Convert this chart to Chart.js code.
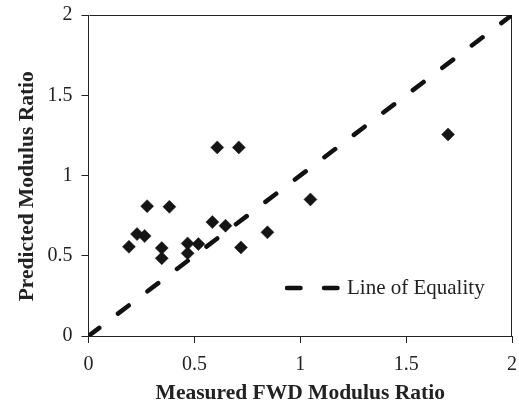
<!DOCTYPE html>
<html>
<head>
<meta charset="utf-8">
<script src="https://cdn.jsdelivr.net/npm/chart.js@4/dist/chart.umd.min.js"></script>
<style>
  html, body { margin: 0; padding: 0; background: #fff; }
  #wrap { width: 519px; height: 409px; }
</style>
</head>
<body>
<div id="wrap"><canvas id="chart" width="519" height="409"></canvas></div>
<script>
// Measured vs predicted modulus ratios
const measured  = [0.191, 0.229, 0.265, 0.277, 0.346, 0.346, 0.382, 0.468, 0.468, 0.519, 0.585, 0.608, 0.647, 0.710, 0.720, 0.845, 1.048, 1.698];
const predicted = [0.556, 0.635, 0.623, 0.809, 0.548, 0.484, 0.805, 0.577, 0.515, 0.573, 0.710, 1.175, 0.687, 1.175, 0.552, 0.646, 0.851, 1.256];

// 1:1 reference line
const equalityX = [0, 2];
const equalityY = [0, 2];

const axisTicks = [0, 0.5, 1, 1.5, 2];
const xTitle = 'Measured FWD Modulus Ratio';
const yTitle = 'Predicted Modulus Ratio';
const equalityLabel = 'Line of Equality';

const SERIF = "'Liberation Serif', 'Times New Roman', Times, serif";
const INK = '#222';

const pointData = measured.map((x, i) => ({ x, y: predicted[i] }));
const lineData = equalityX.map((x, i) => ({ x, y: equalityY[i] }));

const lineStyle = { color: '#111', width: 4.5, dash: [13.5, 23.5] };

// Box around the plotting area (top and right sides)
const frame = {
  id: 'frame',
  beforeDatasetsDraw(chart) {
    const { ctx, chartArea: a } = chart;
    ctx.save();
    ctx.strokeStyle = INK;
    ctx.lineWidth = 1;
    ctx.beginPath();
    ctx.moveTo(Math.round(a.left) + 0.5, Math.round(a.top) + 0.5);
    ctx.lineTo(Math.round(a.right) - 0.5, Math.round(a.top) + 0.5);
    ctx.lineTo(Math.round(a.right) - 0.5, Math.round(a.bottom));
    ctx.stroke();
    ctx.restore();
  }
};

// Legend entry for the dashed line, drawn inside the plot
const lineKey = {
  id: 'lineKey',
  afterDraw(chart) {
    const { ctx } = chart;
    const y = 288;
    ctx.save();
    ctx.strokeStyle = lineStyle.color;
    ctx.lineWidth = lineStyle.width;
    ctx.lineCap = 'round';
    ctx.setLineDash(lineStyle.dash);
    ctx.beginPath();
    ctx.moveTo(287, y);
    ctx.lineTo(340, y);
    ctx.stroke();
    ctx.setLineDash([]);
    ctx.fillStyle = INK;
    ctx.font = '21px ' + SERIF;
    ctx.textBaseline = 'middle';
    ctx.textAlign = 'left';
    ctx.fillText(equalityLabel, 347, y);
    ctx.restore();
  }
};

new Chart(document.getElementById('chart'), {
  type: 'scatter',
  data: {
    datasets: [
      {
        type: 'line',
        label: equalityLabel,
        data: lineData,
        borderColor: lineStyle.color,
        borderWidth: lineStyle.width,
        borderDash: lineStyle.dash,
        borderCapStyle: 'round',
        pointRadius: 0,
        fill: false,
        order: 2
      },
      {
        label: 'Modulus Ratio',
        data: pointData,
        pointStyle: 'rectRot',
        pointRadius: 6.5,
        backgroundColor: '#151515',
        borderColor: '#151515',
        borderWidth: 0.5,
        order: 1
      }
    ]
  },
  options: {
    responsive: false,
    animation: false,
    devicePixelRatio: 1,
    layout: { padding: { top: 15, right: 3, left: 0, bottom: 0 } },
    plugins: { legend: { display: false }, tooltip: { enabled: false } },
    scales: {
      x: {
        type: 'linear',
        min: 0, max: 2,
        afterBuildTicks(s) { s.ticks = axisTicks.map(v => ({ value: v })); },
        afterFit(s) { s.height = 73; s.paddingLeft = 0; s.paddingRight = 0; },
        grid: { drawOnChartArea: false, drawTicks: true, tickLength: 7, color: INK },
        border: { display: true, color: INK, width: 1 },
        ticks: {
          padding: 10,
          color: INK,
          font: { family: SERIF, size: 20 },
          maxRotation: 0,
          callback: v => String(v)
        },
        title: {
          display: true,
          text: xTitle,
          color: INK,
          font: { family: SERIF, size: 21.5, weight: 'bold' },
          padding: { top: 0, bottom: 3 }
        }
      },
      y: {
        type: 'linear',
        min: 0, max: 2,
        afterBuildTicks(s) { s.ticks = axisTicks.map(v => ({ value: v })); },
        afterFit(s) { s.width = 88.5; s.paddingTop = 0; s.paddingBottom = 0; },
        grid: { drawOnChartArea: false, drawTicks: true, tickLength: 7, color: INK },
        border: { display: true, color: INK, width: 1 },
        ticks: {
          padding: 9,
          color: INK,
          font: { family: SERIF, size: 20 },
          callback: v => String(v)
        },
        title: {
          display: true,
          // trailing spaces nudge the centred title toward the bottom of the axis
          text: yTitle + '\u00A0\u00A0\u00A0\u00A0',
          color: INK,
          font: { family: SERIF, size: 21.5, weight: 'bold' },
          padding: { top: 15, bottom: 0 }
        }
      }
    }
  },
  plugins: [frame, lineKey]
});
</script>
</body>
</html>
